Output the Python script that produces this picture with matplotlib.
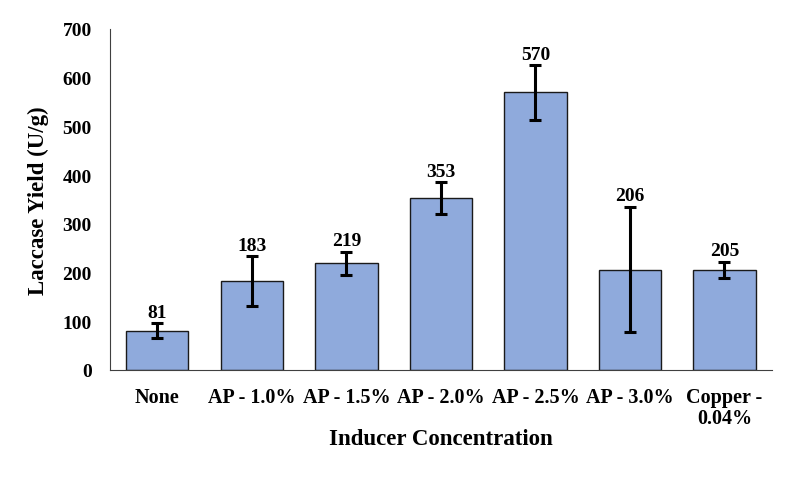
import matplotlib
matplotlib.use("Agg")
from matplotlib import pyplot as plt
import numpy as np

categories = ['None', 'AP - 1.0%', 'AP - 1.5%', 'AP - 2.0%', 'AP - 2.5%', 'AP - 3.0%', 'Copper -\n0.04%']
yields = [81, 183, 219, 353, 570, 206, 205]
errors = [15, 51, 24, 33, 56, 129, 17]

plt.rcParams['font.family'] = 'Liberation Serif'
plt.rcParams['font.weight'] = 'bold'

fig = plt.figure(figsize=(7.94, 4.81), dpi=100)
ax = fig.add_axes([0.1385, 0.2287, 0.8335, 0.709])

x = np.arange(len(categories))
ax.bar(x, yields, width=0.66, color='#8FAADC', edgecolor='#1a1a1a', linewidth=1.0,
       yerr=errors, error_kw=dict(ecolor='black', elinewidth=2.2, capsize=4, capthick=2.2))

for xi, v, e in zip(x, yields, errors):
    ax.text(xi, v + e + 5, str(v), ha='center', va='bottom', fontsize=14, fontweight='bold')

ax.set_xlim(-0.5, 6.5)
ax.set_ylim(0, 700)
ax.set_yticks(range(0, 701, 100))
ax.set_xticks(x)
ax.set_xticklabels(categories, fontsize=14.5, fontweight='bold', linespacing=1.1)
ax.tick_params(axis='y', length=0, labelsize=14, pad=13)
ax.tick_params(axis='x', length=0, pad=12)
for lbl in ax.get_yticklabels():
    lbl.set_fontweight('bold')

ax.spines['top'].set_visible(False)
ax.spines['right'].set_visible(False)
ax.spines['left'].set_color('#404040')
ax.spines['bottom'].set_color('#404040')

ax.set_xlabel('Inducer Concentration', fontsize=16.5, fontweight='bold', labelpad=0)
ax.set_ylabel('Laccase Yield (U/g)', fontsize=16.5, fontweight='bold', labelpad=10)

fig.savefig('out.png', dpi=100)
